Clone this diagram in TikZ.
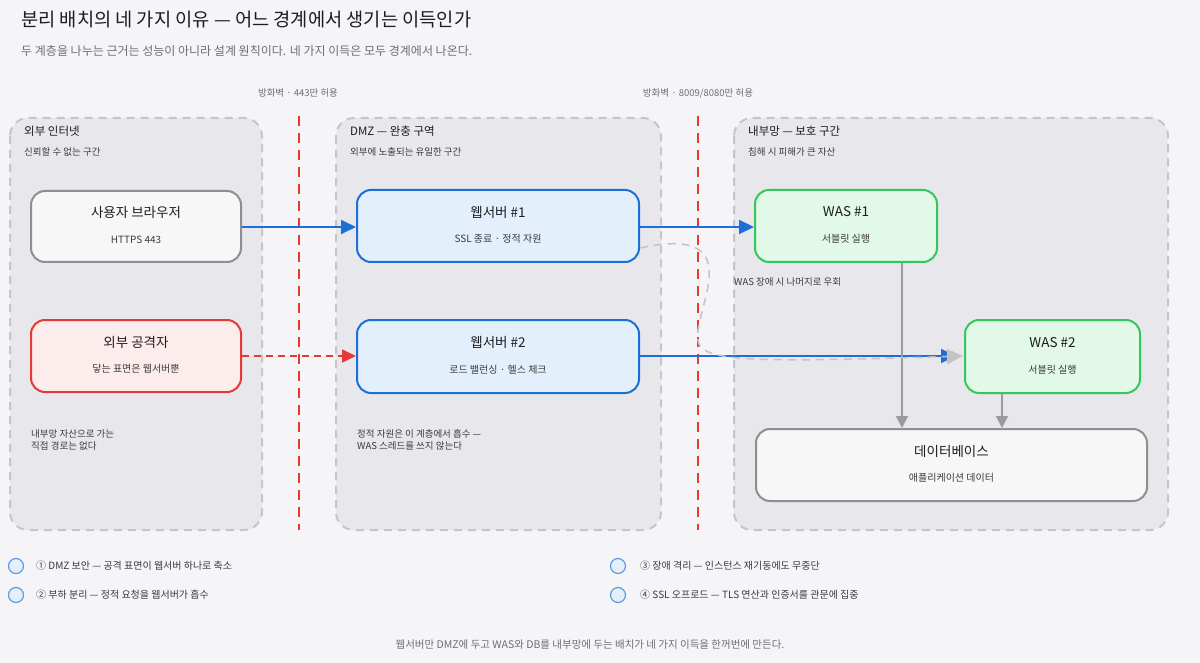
\documentclass[tikz,border=0pt]{standalone}
\usepackage{fontspec}
\setmainfont{Noto Sans CJK KR}
\usetikzlibrary{arrows.meta,calc}
\definecolor{bg}{HTML}{F5F5F7}
\definecolor{zonefill}{HTML}{E8E8EC}
\definecolor{zoneline}{HTML}{C6C6CA}
\definecolor{altline}{HTML}{C4C4C8}
\definecolor{bl}{HTML}{1C6FD6}
\definecolor{blfill}{HTML}{E3F0FC}
\definecolor{gr}{HTML}{34C759}
\definecolor{grfill}{HTML}{E2F8E8}
\definecolor{rd}{HTML}{E53935}
\definecolor{rdfill}{HTML}{FDECEC}
\definecolor{gy}{HTML}{8E8E93}
\definecolor{gyfill}{HTML}{F7F7F8}
\definecolor{agray}{HTML}{9A9A9E}
\definecolor{dark}{HTML}{1D1D1F}
\definecolor{mid}{HTML}{3A3A3C}
\definecolor{soft}{HTML}{6E6E73}
\tikzset{
  zone/.style={draw=zoneline, fill=zonefill, line width=2pt, dash pattern=on 8pt off 6pt, rounded corners=18pt},
  box/.style={line width=2pt, rounded corners=14pt, inner sep=0pt},
  graybox/.style={box, draw=gy, fill=gyfill},
  bluebox/.style={box, draw=bl, fill=blfill},
  greenbox/.style={box, draw=gr, fill=grfill},
  redbox/.style={box, draw=rd, fill=rdfill},
  ntitle/.style={font=\fontsize{13.5}{16}\selectfont, text=dark},
  nsub/.style={font=\fontsize{10}{12}\selectfont, text=mid},
  ztitle/.style={anchor=west, font=\fontsize{11.5}{14}\selectfont, text=dark, inner sep=0pt},
  zsub/.style={anchor=west, font=\fontsize{9.5}{12}\selectfont, text=mid, inner sep=0pt},
  note/.style={anchor=north west, align=left, font=\fontsize{9.5}{12.5}\selectfont, text=mid, inner sep=0pt},
  fw/.style={draw=rd, line width=2pt, dash pattern=on 10pt off 7pt},
  fwlabel/.style={font=\fontsize{9.5}{12}\selectfont, text=soft, inner sep=0pt},
  blarrow/.style={draw=bl, line width=2pt, -{Triangle[length=15pt,width=14pt]}},
  rdarrow/.style={draw=rd, line width=1.6pt, dash pattern=on 7pt off 5pt, -{Triangle[length=14pt,width=13pt,fill=rd]}},
  garrow/.style={draw=agray, line width=1.5pt, -{Triangle[length=12pt,width=12pt]}},
  altarrow/.style={draw=altline, line width=1.5pt, dash pattern=on 8pt off 6pt, -{Triangle[length=16pt,width=15pt,fill=altline]}},
  legdot/.style={circle, draw=bl!70, fill=blfill, line width=1.2pt, minimum size=15pt, inner sep=0pt},
  legtext/.style={anchor=west, font=\fontsize{10}{12}\selectfont, text=mid, inner sep=0pt},
}
\begin{document}
\begin{tikzpicture}[x=1pt,y=-1pt]
\fill[bg] (0,0) rectangle (1200,663);
\useasboundingbox (0,0) rectangle (1200,663);

% title
\node[anchor=west, inner sep=0pt, font=\fontsize{18.7}{23}\selectfont, text=dark] (title) at (21,20) {분리 배치의 네 가지 이유 — 어느 경계에서 생기는 이득인가};
\node[anchor=west, inner sep=0pt, font=\fontsize{12}{14}\selectfont, text=soft] (subtitle) at (21,51) {두 계층을 나누는 근거는 성능이 아니라 설계 원칙이다. 네 가지 이득은 모두 경계에서 나온다.};

% zones
\draw[zone] (10,118) rectangle (262,530);
\draw[zone] (336,118) rectangle (661,530);
\draw[zone] (734,118) rectangle (1168,530);
\node[ztitle] (z1t) at (24,131) {외부 인터넷};
\node[zsub] (z1s) at (24,152) {신뢰할 수 없는 구간};
\node[ztitle] (z2t) at (350,131) {DMZ — 완충 구역};
\node[zsub] (z2s) at (350,152) {외부에 노출되는 유일한 구간};
\node[ztitle] (z3t) at (748,131) {내부망 — 보호 구간};
\node[zsub] (z3s) at (748,152) {침해 시 피해가 큰 자산};

% firewalls
\node[fwlabel] (fw1) at (298,93) {방화벽 · 443만 허용};
\node[fwlabel] (fw2) at (698,93) {방화벽 · 8009/8080만 허용};
\coordinate (fw1a) at (299,116); \coordinate (fw1b) at (299,530);
\coordinate (fw2a) at (698,116); \coordinate (fw2b) at (698,530);
\draw[fw] (fw1a) -- (fw1b);
\draw[fw] (fw2a) -- (fw2b);

% nodes
\node[graybox, minimum width=210pt, minimum height=71pt] (browser) at (136,226.5) {};
\node[ntitle] at ([yshift=14pt]browser.center) {사용자 브라우저};
\node[nsub] at ([yshift=-13pt]browser.center) {HTTPS 443};

\node[redbox, minimum width=210pt, minimum height=72pt] (attacker) at (136,356) {};
\node[ntitle] at ([yshift=14pt]attacker.center) {외부 공격자};
\node[nsub] at ([yshift=-13pt]attacker.center) {닿는 표면은 웹서버뿐};

\node[bluebox, minimum width=282pt, minimum height=72pt] (ws1) at (498,226) {};
\node[ntitle] at ([yshift=14pt]ws1.center) {웹서버 \#1};
\node[nsub] at ([yshift=-13pt]ws1.center) {SSL 종료 · 정적 자원};

\node[bluebox, minimum width=282pt, minimum height=73pt] (ws2) at (498,356.5) {};
\node[ntitle] at ([yshift=14pt]ws2.center) {웹서버 \#2};
\node[nsub] at ([yshift=-13pt]ws2.center) {로드 밸런싱 · 헬스 체크};

\node[greenbox, minimum width=182pt, minimum height=72pt] (was1) at (846,226) {};
\node[ntitle] at ([yshift=14pt]was1.center) {WAS \#1};
\node[nsub] at ([yshift=-13pt]was1.center) {서블릿 실행};

\node[greenbox, minimum width=175pt, minimum height=73pt] (was2) at (1052.5,356.5) {};
\node[ntitle] at ([yshift=14pt]was2.center) {WAS \#2};
\node[nsub] at ([yshift=-13pt]was2.center) {서블릿 실행};

\node[graybox, minimum width=391pt, minimum height=72pt] (db) at (951.5,465) {};
\node[ntitle] at ([yshift=14pt]db.center) {데이터베이스};
\node[nsub] at ([yshift=-13pt]db.center) {애플리케이션 데이터};

% notes
\node[note] (n1) at (31,429) {내부망 자산으로 가는\\직접 경로는 없다};
\node[note] (n2) at (357,429) {정적 자원은 이 계층에서 흡수 —\\WAS 스레드를 쓰지 않는다};
\node[anchor=west, inner sep=0pt, font=\fontsize{9.5}{12}\selectfont, text=mid] (altlabel) at (734,282) {WAS 장애 시 나머지로 우회};

% connectors
\draw[blarrow] (browser.east |- 0,227) -- (ws1.west |- 0,227);
\draw[rdarrow] (attacker.east |- 0,356) -- (ws2.west |- 0,356);
\draw[blarrow] (ws1.east |- 0,227) -- (was1.west |- 0,227);
\draw[blarrow] (ws2.east |- 0,356) -- ([xshift=-8pt]was2.west |- 0,356);
\draw[garrow] (was1.south -| 902,0) -- (db.north -| 902,0);
\draw[garrow] (was2.south -| 1002,0) -- (db.north -| 1002,0);
\draw[altarrow] (ws1.east |- 0,248) .. controls (760,222) and (684,322) .. (700,346) .. controls (712,362) and (770,362) .. ([xshift=-1pt]was2.west |- 0,356);

% legend
\node[legdot] (d1) at (16,566) {};
\node[legtext] (l1) at (36,566) {① DMZ 보안 — 공격 표면이 웹서버 하나로 축소};
\node[legdot] (d2) at (16,595) {};
\node[legtext] (l2) at (36,595) {② 부하 분리 — 정적 요청을 웹서버가 흡수};
\node[legdot] (d3) at (618,566) {};
\node[legtext] (l3) at (640,566) {③ 장애 격리 — 인스턴스 재기동에도 무중단};
\node[legdot] (d4) at (618,595) {};
\node[legtext] (l4) at (640,595) {④ SSL 오프로드 — TLS 연산과 인증서를 관문에 집중};

% footer
\node[inner sep=0pt, font=\fontsize{10.5}{13}\selectfont, text=soft] (footer) at (590,645) {웹서버만 DMZ에 두고 WAS와 DB를 내부망에 두는 배치가 네 가지 이득을 한꺼번에 만든다.};
\end{tikzpicture}
\end{document}
